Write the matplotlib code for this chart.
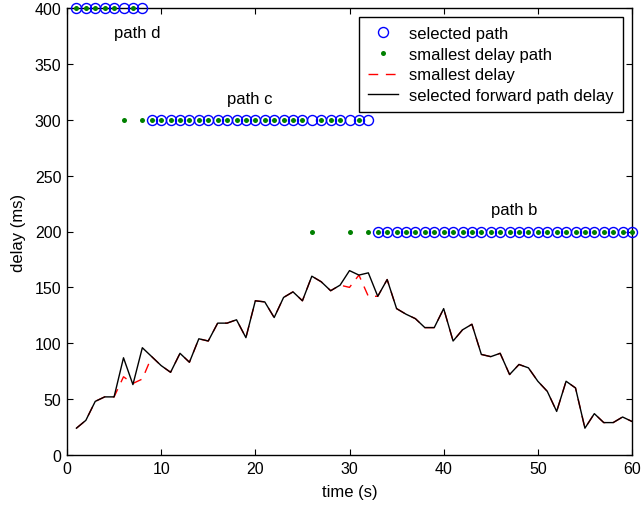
import matplotlib
matplotlib.use("Agg")
import matplotlib.pyplot as plt
import numpy as np

plt.rcParams['font.family'] = ['Liberation Sans', 'DejaVu Sans']

time_s = list(range(1, 61))

# delay level of each path (ms) used for the path indicator rows
path_level = {"d": 400, "b": 200, "c": 300}

selected_path = ["d"] * 8 + ["c"] * 24 + ["b"] * 28
smallest_path = (["d"] * 5 + ["c", "d", "c"] + ["c"] * 17 + ["b"] + ["c"] * 3
                 + ["b", "c", "b"] + ["b"] * 28)

selected_delay = [24, 31, 48, 52, 52, 87, 63, 96, 88, 80,
                  74, 91, 83, 104, 102, 118, 118, 121, 105, 138,
                  137, 123, 141, 146, 138, 160, 155, 147, 152, 165,
                  161, 163, 142, 157, 131, 126, 122, 114, 114, 131,
                  102, 112, 117, 90, 88, 91, 72, 81, 78, 66,
                  57, 39, 66, 60, 24, 37, 29, 29, 34, 30]

smallest_delay = [24, 31, 48, 52, 52, 70, 64, 68, 88, 80,
                  74, 91, 83, 104, 102, 118, 118, 121, 105, 138,
                  137, 123, 141, 146, 138, 160, 155, 147, 152, 150,
                  161, 142, 142, 157, 131, 126, 122, 114, 114, 131,
                  102, 112, 117, 90, 88, 91, 72, 81, 78, 66,
                  57, 39, 66, 60, 24, 37, 29, 29, 34, 30]

path_labels = ["path d", "path c", "path b"]
label_x = [7.5, 19.4, 47.5]
label_y = [378, 319, 220]

FS = 12

fig = plt.figure(figsize=(6.41, 5.06), dpi=100)
ax = fig.add_axes([67/641, 1-456/506, (632-67)/641, (456-9)/506])

sel_y = [path_level[p] for p in selected_path]
small_y = [path_level[p] for p in smallest_path]

ax.plot(time_s, sel_y, linestyle='none', marker='o', markersize=7.2,
        markerfacecolor='none', markeredgecolor=(0, 0, 1), markeredgewidth=1.0,
        clip_on=False, label='selected path', zorder=3)
ax.plot(time_s, small_y, linestyle='none', marker='o', markersize=3.6,
        markerfacecolor=(0, 0.5, 0), markeredgecolor=(0, 0.5, 0), markeredgewidth=0,
        clip_on=False, label='smallest delay path', zorder=4)
ax.plot(time_s, smallest_delay, color=(1, 0, 0), linestyle=(0, (7, 5.5)),
        linewidth=1.0, label='smallest delay', zorder=2)
ax.plot(time_s, selected_delay, color='black', linewidth=1.0,
        label='selected forward path delay', zorder=2.5)

for txt, x, y in zip(path_labels, label_x, label_y):
    ax.text(x, y, txt, ha='center', va='center', fontsize=FS)

ax.set_xlim(0, 60)
ax.set_ylim(0, 400)
ax.set_xticks(np.arange(0, 61, 10))
ax.set_yticks(np.arange(0, 401, 50))
ax.tick_params(direction='in', top=True, right=True, labelsize=11.5,
               length=4.5, pad=4)
for s in ax.spines.values():
    s.set_linewidth(1.0)
ax.set_xlabel('time (s)', fontsize=FS, labelpad=6)
ax.set_ylabel('delay (ms)', fontsize=FS, labelpad=6)

leg = ax.legend(loc='upper right', bbox_to_anchor=(0.984, 0.98), fontsize=FS,
                fancybox=False, edgecolor='black', framealpha=1,
                handlelength=1.75, borderpad=0.55, labelspacing=0.34,
                handletextpad=0.7, borderaxespad=0)
leg.get_frame().set_linewidth(1.0)

fig.savefig('out.png', dpi=100)
